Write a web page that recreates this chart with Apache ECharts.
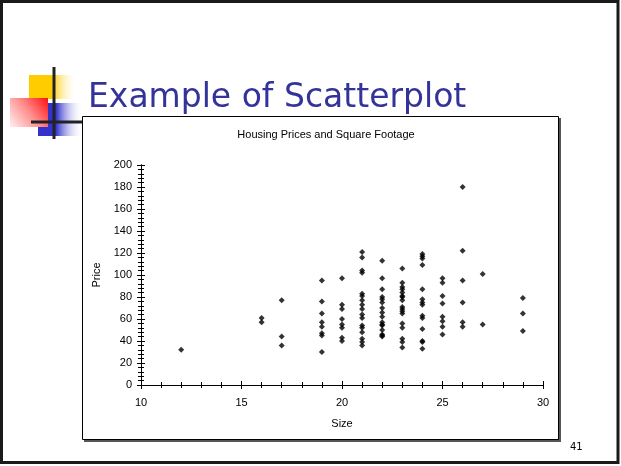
<!DOCTYPE html>
<html>
<head>
<meta charset="utf-8">
<script src="https://cdn.jsdelivr.net/npm/echarts@6/dist/echarts.min.js"></script>
<style>
html,body{margin:0;padding:0;background:#fff;}
#c{width:621px;height:466px;}
</style>
</head>
<body>
<div id="c"></div>
<script>
// Data
var slideTitle = 'Example of Scatterplot';
var chartTitle = 'Housing Prices and Square Footage';
var xName = 'Size';
var yName = 'Price';
var pageNumber = '41';
var sizes = [
  12,
  16,16,
  17,17,17,
  19,19,19,19,19,19,19,19,
  20,20,20,20,20,20,20,20,
  21,21,21,21,21,21,21,21,21,21,21,21,21,21,21,21,21,
  22,22,22,22,22,22,22,22,22,22,22,22,22,22,22,22,
  23,23,23,23,23,23,23,23,23,23,23,23,23,23,23,23,23,
  24,24,24,24,24,24,24,24,24,24,24,24,24,24,
  25,25,25,25,25,25,25,25,
  26,26,26,26,26,26,
  27,27,
  29,29,29
];
var prices = [
  32,
  61,57,
  77,44,36,
  95,76,65,57,53,47,45,30,
  97,73,69,60,55,52,43,40,
  121,116,104,102,83,81,77,73,69,64,61,54,52,48,42,39,36,
  113,97,87,80,78,75,70,66,62,57,55,54,50,46,45,44,
  106,93,89,87,84,81,80,77,71,69,67,65,56,52,42,39,34,
  119,117,115,109,87,78,75,73,63,61,51,40,39,33,
  97,93,81,74,62,58,53,46,
  180,122,95,75,57,53,
  101,55,
  79,65,49
];
var xMin = 10, xMax = 30, xStep = 5;
var yMin = 0, yMax = 200, yStep = 20;

var points = sizes.map(function (s, i) { return [s, prices[i]]; });

var chart = echarts.init(document.getElementById('c'), null, {renderer: 'canvas'});
var axisFont = {fontFamily: 'Liberation Sans, Arial, sans-serif', fontSize: 11, color: '#000'};

function xAx(inside, show) {
  return {
    type: 'value', min: xMin, max: xMax, interval: xStep, position: 'bottom', offset: 0,
    axisLine: {show: true, onZero: false, lineStyle: {color: '#000', width: 1}},
    axisTick: {show: true, inside: inside, length: 4, lineStyle: {color: '#000'}},
    minorTick: {show: true, splitNumber: 5, length: 3, lineStyle: {color: '#000'}},
    axisLabel: Object.assign({show: show, margin: 12}, axisFont),
    splitLine: {show: false},
    name: show ? xName : '', nameLocation: 'middle', nameGap: 33,
    nameTextStyle: axisFont
  };
}
function yAx(inside, show) {
  return {
    type: 'value', min: yMin, max: yMax, interval: yStep, position: 'left', offset: 0,
    axisLine: {show: true, onZero: false, lineStyle: {color: '#000', width: 1}},
    axisTick: {show: true, inside: inside, length: 4, lineStyle: {color: '#000'}},
    minorTick: {show: true, splitNumber: 5, length: 3, lineStyle: {color: '#000'}},
    axisLabel: Object.assign({show: show, margin: 9}, axisFont),
    splitLine: {show: false},
    name: show ? yName : '', nameLocation: 'middle', nameGap: 36, nameRotate: 90,
    nameTextStyle: axisFont
  };
}

var option = {
  backgroundColor: '#fff',
  animation: false,
  title: [
    {text: slideTitle, left: 83, top: 77,
     textStyle: {fontFamily: 'DejaVu Sans, Verdana, sans-serif', fontSize: 33, fontWeight: 'normal', color: '#333399'}},
    {text: chartTitle, left: 321, top: 124, textAlign: 'center',
     textStyle: {fontFamily: 'Liberation Sans, Arial, sans-serif', fontSize: 11, fontWeight: 'normal', color: '#000'}}
  ],
  grid: {left: 141, right: 78, top: 165, bottom: 81, containLabel: false},
  xAxis: [xAx(false, true), xAx(true, false)],
  yAxis: [yAx(false, true), yAx(true, false)],
  series: [{
    type: 'scatter', xAxisIndex: 0, yAxisIndex: 0,
    data: points, symbol: 'diamond', symbolSize: 6,
    itemStyle: {color: '#000'}, z: 5
  }],
  graphic: [
    // slide frame
    {type: 'rect', z: -20, shape: {x: 1.5, y: 1.5, width: 616.5, height: 461}, style: {fill: '#fff', stroke: '#1a1a1a', lineWidth: 3}},
    // chart box shadow + box
    {type: 'rect', z: -15, shape: {x: 84, y: 118, width: 477, height: 324}, style: {fill: '#555', stroke: null}},
    {type: 'rect', z: -14, shape: {x: 82.5, y: 116.5, width: 476, height: 323}, style: {fill: '#fff', stroke: '#000', lineWidth: 1}},
    // logo
    {type: 'rect', z: -18, shape: {x: 29, y: 75, width: 48, height: 24},
     style: {fill: {type: 'linear', x: 0, y: 0, x2: 1, y2: 0, colorStops: [
       {offset: 0, color: '#FFCC00'}, {offset: 0.48, color: '#FFCC00'}, {offset: 1, color: 'rgba(255,255,255,0)'}]}}},
    {type: 'rect', z: -17, shape: {x: 38, y: 103, width: 45, height: 33},
     style: {fill: {type: 'linear', x: 0, y: 0, x2: 1, y2: 0, colorStops: [
       {offset: 0, color: '#3333CC'}, {offset: 0.4, color: '#3333CC'}, {offset: 1, color: 'rgba(255,255,255,0)'}]}}},
    {type: 'rect', z: -16, shape: {x: 10, y: 98, width: 38, height: 29},
     style: {fill: {type: 'linear', x: 0, y: 1, x2: 1, y2: 0, colorStops: [
       {offset: 0, color: '#FFF0F0'}, {offset: 0.5, color: '#FF9090'}, {offset: 1, color: '#FF1010'}]}}},
    {type: 'line', z: -13, shape: {x1: 54, y1: 67, x2: 54, y2: 139}, style: {stroke: '#222', lineWidth: 3}},
    {type: 'line', z: -13, shape: {x1: 31, y1: 122, x2: 82, y2: 122}, style: {stroke: '#222', lineWidth: 3}},
    // page number
    {type: 'text', z: 10, left: 570, top: 442,
     style: {text: pageNumber, fontFamily: 'DejaVu Sans, Verdana, sans-serif', fontSize: 10, fill: '#000'}}
  ]
};
chart.setOption(option);
</script>
</body>
</html>
